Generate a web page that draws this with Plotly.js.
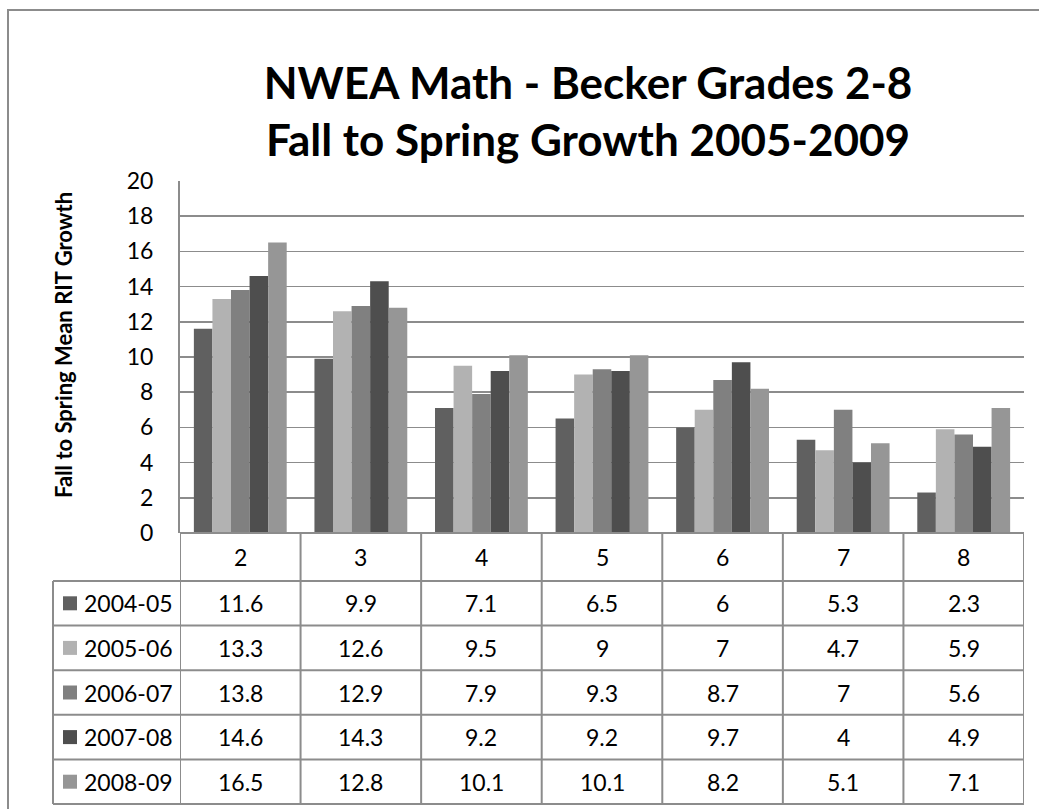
<!DOCTYPE html>
<html>
<head>
<meta charset="utf-8">
<script src="https://cdn.plot.ly/plotly-3.0.1.min.js"></script>
<style>html,body{margin:0;padding:0;background:#fff;}#chart{width:1039px;height:809px;}</style>
</head>
<body>
<div id="chart"></div>
<script>
// ---- data ----
const grades = ['2', '3', '4', '5', '6', '7', '8'];
const seriesNames = ['2004-05', '2005-06', '2006-07', '2007-08', '2008-09'];
const y2004_05 = [11.6, 9.9, 7.1, 6.5, 6, 5.3, 2.3];
const y2005_06 = [13.3, 12.6, 9.5, 9, 7, 4.7, 5.9];
const y2006_07 = [13.8, 12.9, 7.9, 9.3, 8.7, 7, 5.6];
const y2007_08 = [14.6, 14.3, 9.2, 9.2, 9.7, 4, 4.9];
const y2008_09 = [16.5, 12.8, 10.1, 10.1, 8.2, 5.1, 7.1];
const seriesValues = [y2004_05, y2005_06, y2006_07, y2007_08, y2008_09];
const seriesColors = ['#606060', '#b2b2b2', '#808080', '#4e4e4e', '#969696'];
const titleLines = ['NWEA Math - Becker Grades 2-8', 'Fall to Spring Growth 2005-2009'];
const yTitle = 'Fall to Spring Mean RIT Growth';

// ---- geometry (pixels) ----
const W = 1039, H = 809;
const L = 180, R = 1024, T = 181, B = 533;
const pw = R - L, ph = B - T;
const px2x = px => (px - L) / pw;
const py2y = py => (B - py) / ph;
const headerBottom = 581, tableBottom = 804, legendLeft = 53;
const rowH = (tableBottom - headerBottom) / seriesNames.length;
const FONT = 'Lato, Carlito, Calibri, "Open Sans", sans-serif';
const lineColor = '#8c8c8c';
const BODY = 23;

const traces = seriesNames.map((name, i) => ({
  type: 'bar',
  name: name,
  x: grades,
  y: seriesValues[i],
  marker: { color: seriesColors[i], line: { width: 0 } },
  hoverinfo: 'x+y+name'
}));

const shapes = [];
const annotations = [];

// outer chart border
shapes.push({ type: 'rect', xref: 'paper', yref: 'paper',
  x0: px2x(8), x1: px2x(W + 10), y0: py2y(10), y1: py2y(H + 10),
  line: { color: lineColor, width: 2 }, fillcolor: 'rgba(0,0,0,0)', layer: 'below' });

// table vertical lines at category boundaries
for (let k = 0; k <= grades.length; k++) {
  shapes.push({ type: 'line', xref: 'x', yref: 'paper',
    x0: k - 0.5, x1: k - 0.5, y0: 0, y1: py2y(tableBottom),
    line: { color: lineColor, width: 2 } });
}
// legend column left line
shapes.push({ type: 'line', xref: 'paper', yref: 'paper',
  x0: px2x(legendLeft), x1: px2x(legendLeft), y0: py2y(headerBottom), y1: py2y(tableBottom),
  line: { color: lineColor, width: 2 } });
// horizontal lines
shapes.push({ type: 'line', xref: 'paper', yref: 'paper', x0: 0, x1: 1, y0: 0, y1: 0,
  line: { color: lineColor, width: 2 } });
for (let r = 0; r <= seriesNames.length; r++) {
  const py = headerBottom + r * rowH;
  shapes.push({ type: 'line', xref: 'paper', yref: 'paper',
    x0: px2x(legendLeft), x1: 1, y0: py2y(py), y1: py2y(py),
    line: { color: lineColor, width: 2 } });
}

// header labels (categories)
grades.forEach((g, k) => {
  annotations.push({ xref: 'x', yref: 'paper', x: k, y: py2y((B + headerBottom) / 2),
    text: g, showarrow: false, xanchor: 'center', yanchor: 'middle',
    font: { family: FONT, size: BODY, color: '#000' } });
});

// data rows
seriesNames.forEach((name, r) => {
  const cy = headerBottom + (r + 0.5) * rowH;
  // legend key
  shapes.push({ type: 'rect', xref: 'paper', yref: 'paper',
    x0: px2x(63), x1: px2x(77), y0: py2y(cy - 7), y1: py2y(cy + 7),
    fillcolor: seriesColors[r], line: { width: 0 } });
  annotations.push({ xref: 'paper', yref: 'paper', x: px2x(82), y: py2y(cy),
    text: name, showarrow: false, xanchor: 'left', yanchor: 'middle',
    font: { family: FONT, size: BODY, color: '#000' } });
  seriesValues[r].forEach((v, k) => {
    annotations.push({ xref: 'x', yref: 'paper', x: k, y: py2y(cy),
      text: String(v), showarrow: false, xanchor: 'center', yanchor: 'middle',
      font: { family: FONT, size: BODY, color: '#000' } });
  });
});

// y axis title
annotations.push({ xref: 'paper', yref: 'paper', x: px2x(63), y: py2y(345),
  text: '<b>' + yTitle + '</b>', textangle: -90, showarrow: false,
  xanchor: 'center', yanchor: 'middle',
  font: { family: FONT, size: 22, color: '#000' } });

const layout = {
  width: W, height: H,
  margin: { l: L, r: W - R, t: T, b: H - B, pad: 0 },
  paper_bgcolor: '#fff', plot_bgcolor: '#fff',
  showlegend: false,
  title: { text: '<b>' + titleLines.join('<br>') + '</b>',
    font: { family: FONT, size: 44, color: '#000' },
    x: 588 / W, xanchor: 'center', xref: 'container',
    y: 1 - 99 / H, yanchor: 'top', yref: 'container' },
  barmode: 'group', bargap: 0.23, bargroupgap: 0,
  xaxis: { type: 'category', categoryorder: 'array', categoryarray: grades,
    range: [-0.5, grades.length - 0.5], showticklabels: false, showgrid: false,
    showline: false, zeroline: false, ticks: '', fixedrange: true },
  yaxis: { range: [0, 20], dtick: 2, tick0: 0, showgrid: true, gridcolor: lineColor,
    gridwidth: 1.5, showline: true, linecolor: lineColor, linewidth: 2, zeroline: false,
    ticks: '', ticklabelstandoff: 20,
    tickfont: { family: FONT, size: BODY, color: '#000' }, fixedrange: true },
  shapes: shapes,
  annotations: annotations
};

Plotly.newPlot('chart', traces, layout, { displayModeBar: false, staticPlot: true });
</script>
</body>
</html>
